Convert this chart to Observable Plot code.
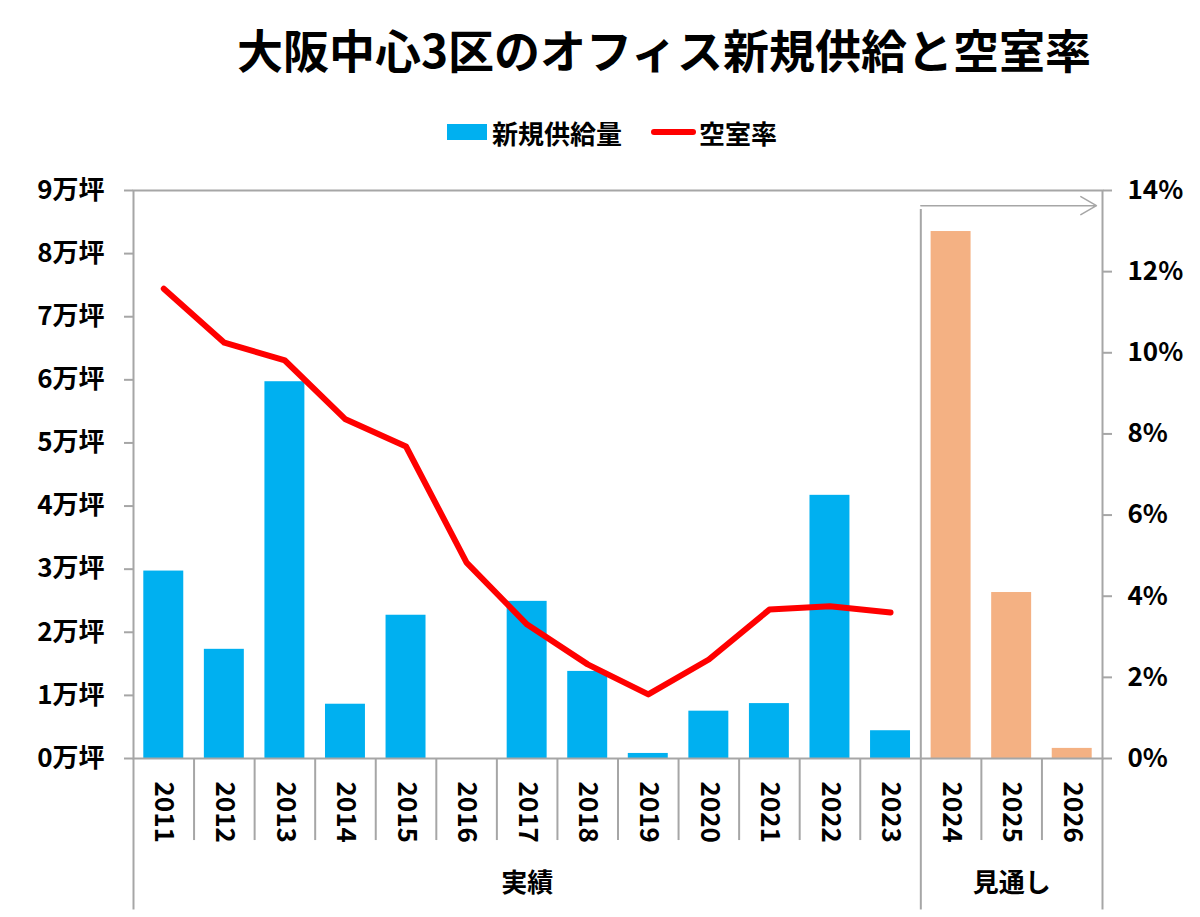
<!DOCTYPE html>
<html>
<head>
<meta charset="utf-8">
<script src="https://cdn.jsdelivr.net/npm/d3@7"></script>
<script src="https://cdn.jsdelivr.net/npm/@observablehq/plot@0.6"></script>
<style>
  body { margin: 0; background: #fff; font-family: "Noto Sans CJK JP", "Noto Sans", sans-serif; color: #000; }
  #title { height: 96px; line-height: 96px; font-size: 46px; font-weight: bold; text-align: center;
           padding-left: 128px; letter-spacing: 0px; box-sizing: border-box; white-space: nowrap; }
  #legend { height: 64px; padding-top: 8px; padding-left: 24px; box-sizing: border-box; display: flex;
            justify-content: center; align-items: center; font-size: 26px; font-weight: bold; }
  .sw-bar { width: 40px; height: 16px; background: #00B0F0; margin-right: 5px; }
  .sw-line { width: 45px; height: 6px; border-radius: 3px; background: #FF0000; margin-left: 29px; margin-right: 3px; }
</style>
</head>
<body>
<div id="title">大阪中心3区のオフィス新規供給と空室率</div>
<div id="legend"><div class="sw-bar"></div><span>新規供給量</span><div class="sw-line"></div><span>空室率</span></div>
<div id="chart"></div>
<script>
// ---- data ----
const years = ["2011","2012","2013","2014","2015","2016","2017","2018","2019","2020","2021","2022","2023","2024","2025","2026"];
// 新規供給量 (万坪)
const supply = [2.97, 1.73, 5.97, 0.86, 2.27, 0, 2.49, 1.38, 0.08, 0.75, 0.87, 4.17, 0.44, 8.35, 2.63, 0.16];
// 空室率 (%), 2011-2023
const vacancy = [11.58, 10.25, 9.81, 8.36, 7.69, 4.83, 3.30, 2.32, 1.58, 2.44, 3.67, 3.75, 3.60];
const groups = ["実績", "見通し"];
const groupCounts = [13, 3];          // number of years in each group
const leftTicks = [0,1,2,3,4,5,6,7,8,9];       // 万坪
const rightTicks = [0,2,4,6,8,10,12,14];       // %

// ---- derived ----
const actualCount = groupCounts[0];
const K = 9 / 14; // % -> 万坪 axis mapping (dual axis)
const rows = years.map((year, i) => ({ i, year, supply: supply[i], vacancy: vacancy[i], forecast: i >= actualCount }));
const groupEdges = [0]; groupCounts.forEach(c => groupEdges.push(groupEdges[groupEdges.length - 1] + c));
const groupRows = groups.map((g, k) => ({ g, mid: (groupEdges[k] + groupEdges[k + 1]) / 2 }));
const inner = d3.range(1, years.length).filter(b => !groupEdges.includes(b));

const gray = "#a6a6a6";
const font = "'Noto Sans CJK JP', 'Noto Sans', sans-serif";

const chart = Plot.plot({
  width: 1200,
  height: 757,
  marginTop: 30,
  marginBottom: 159,
  marginLeft: 133,
  marginRight: 98,
  x: { type: "linear", domain: [0, years.length], axis: null },
  y: { domain: [0, 9], axis: null },
  style: { fontFamily: font, background: "#fff", color: "#000", overflow: "visible" },
  marks: [
    // bars
    Plot.rect(rows.filter(d => !d.forecast), { x1: "i", x2: d => d.i + 1, y1: 0, y2: "supply", insetLeft: 10.3, insetRight: 10.3, fill: "#00B0F0" }),
    Plot.rect(rows.filter(d => d.forecast), { x1: "i", x2: d => d.i + 1, y1: 0, y2: "supply", insetLeft: 10.3, insetRight: 10.3, fill: "#F4B183" }),
    // divider between actual and outlook inside plot, and arrow
    Plot.ruleX([groupEdges[1]], { y1: 0, y2: 8.70, stroke: gray, strokeWidth: 2 }),
    Plot.arrow([0], { x1: groupEdges[1], y1: 8.76, x2: years.length - 0.1, y2: 8.76, stroke: gray, strokeWidth: 1.5, headLength: 18, headAngle: 60 }),
    // vacancy line
    Plot.line(rows.filter(d => d.vacancy != null), { x: d => d.i + 0.5, y: d => d.vacancy * K, stroke: "#FF0000", strokeWidth: 6, strokeLinecap: "round", strokeLinejoin: "round" }),
    // frame
    Plot.frame({ stroke: gray, strokeWidth: 2 }),
    // left axis
    Plot.axisY(leftTicks, { anchor: "left", tickSize: 9, tickPadding: 20, tickFormat: d => d + "万坪", stroke: gray, strokeWidth: 2, fill: "#000", fontSize: 26, fontWeight: "bold", label: null }),
    // right axis
    Plot.axisY(rightTicks.map(v => v * K), { anchor: "right", tickSize: 9, tickPadding: 16, tickFormat: d => Math.round(d / K) + "%", stroke: gray, strokeWidth: 2, fill: "#000", fontSize: 26, fontWeight: "bold", label: null }),
    // category separators below axis
    Plot.ruleX(inner, { y1: 0, y2: -1.3, stroke: gray, strokeWidth: 2 }),
    Plot.ruleX(groupEdges, { y1: 0, y2: -2.4, stroke: gray, strokeWidth: 2 }),
    // year labels
    Plot.text(rows, { x: d => d.i + 0.5, y: -0.85, text: "year", rotate: 90, fontSize: 26, fontWeight: "bold", fill: "#000" }),
    // group labels
    Plot.text(groupRows, { x: "mid", y: -1.98, text: "g", fontSize: 26, fontWeight: "bold", fill: "#000" })
  ]
});
document.getElementById("chart").appendChild(chart);
</script>
</body>
</html>
